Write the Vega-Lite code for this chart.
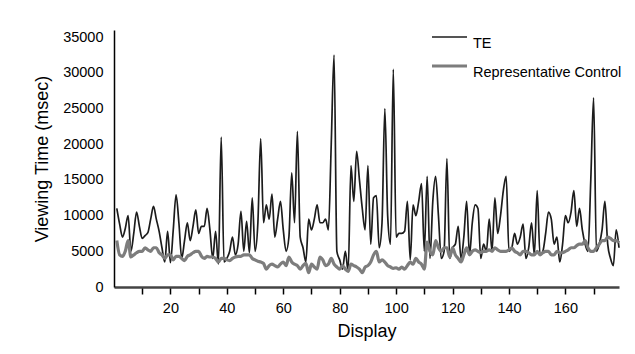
{
  "$schema": "https://vega.github.io/schema/vega-lite/v6.json",
  "autosize": {"type": "none"},
  "padding": {"left": 114, "top": 30, "right": 15, "bottom": 67},
  "width": 505,
  "height": 257,
  "background": "white",
  "config": {
    "font": "Liberation Sans",
    "view": {"stroke": null},
    "axis": {"grid": false, "labelColor": "#000", "titleColor": "#000", "labelFontSize": 14.5, "titleFontSize": 18, "titleFontWeight": "normal"},
    "legend": {"labelFont": "Liberation Sans"}
  },
  "data": {"values": [
    {"d":1,"TE":11000,"Representative Control":6500},
    {"d":2,"TE":8800,"Representative Control":4500},
    {"d":3,"TE":7000,"Representative Control":4300},
    {"d":4,"TE":8200,"Representative Control":5000},
    {"d":5,"TE":10000,"Representative Control":6500},
    {"d":6,"TE":5000,"Representative Control":4200},
    {"d":7,"TE":7500,"Representative Control":4500},
    {"d":8,"TE":10500,"Representative Control":4800},
    {"d":9,"TE":8500,"Representative Control":5000},
    {"d":10,"TE":6800,"Representative Control":5000},
    {"d":11,"TE":7200,"Representative Control":5500},
    {"d":12,"TE":7600,"Representative Control":5200},
    {"d":13,"TE":9500,"Representative Control":5000},
    {"d":14,"TE":11300,"Representative Control":5500},
    {"d":15,"TE":9500,"Representative Control":5500},
    {"d":16,"TE":7800,"Representative Control":4800},
    {"d":17,"TE":5500,"Representative Control":4500},
    {"d":18,"TE":3500,"Representative Control":4000},
    {"d":19,"TE":7800,"Representative Control":4500},
    {"d":20,"TE":3400,"Representative Control":4500},
    {"d":21,"TE":8000,"Representative Control":3800},
    {"d":22,"TE":12900,"Representative Control":4300},
    {"d":23,"TE":9000,"Representative Control":4300},
    {"d":24,"TE":4000,"Representative Control":4000},
    {"d":25,"TE":6500,"Representative Control":3700},
    {"d":26,"TE":9000,"Representative Control":4300},
    {"d":27,"TE":6500,"Representative Control":4500},
    {"d":28,"TE":8500,"Representative Control":4800},
    {"d":29,"TE":10800,"Representative Control":5000},
    {"d":30,"TE":7500,"Representative Control":5000},
    {"d":31,"TE":8500,"Representative Control":4300},
    {"d":32,"TE":8500,"Representative Control":4000},
    {"d":33,"TE":11000,"Representative Control":4300},
    {"d":34,"TE":8000,"Representative Control":4200},
    {"d":35,"TE":4000,"Representative Control":4200},
    {"d":36,"TE":7800,"Representative Control":4000},
    {"d":37,"TE":3200,"Representative Control":3500},
    {"d":38,"TE":21000,"Representative Control":4000},
    {"d":39,"TE":3500,"Representative Control":4000},
    {"d":40,"TE":4000,"Representative Control":3800},
    {"d":41,"TE":5000,"Representative Control":3700},
    {"d":42,"TE":7000,"Representative Control":4000},
    {"d":43,"TE":4500,"Representative Control":4200},
    {"d":44,"TE":6000,"Representative Control":4300},
    {"d":45,"TE":10600,"Representative Control":4300},
    {"d":46,"TE":5000,"Representative Control":4500},
    {"d":47,"TE":9200,"Representative Control":4500},
    {"d":48,"TE":4800,"Representative Control":4500},
    {"d":49,"TE":12500,"Representative Control":4000},
    {"d":50,"TE":5000,"Representative Control":3800},
    {"d":51,"TE":9000,"Representative Control":3600},
    {"d":52,"TE":20800,"Representative Control":3500},
    {"d":53,"TE":9000,"Representative Control":3300},
    {"d":54,"TE":11500,"Representative Control":2500},
    {"d":55,"TE":9500,"Representative Control":3000},
    {"d":56,"TE":13000,"Representative Control":3200},
    {"d":57,"TE":7000,"Representative Control":3000},
    {"d":58,"TE":9500,"Representative Control":2800},
    {"d":59,"TE":12000,"Representative Control":3200},
    {"d":60,"TE":8000,"Representative Control":3500},
    {"d":61,"TE":5000,"Representative Control":3000},
    {"d":62,"TE":7000,"Representative Control":4200},
    {"d":63,"TE":16000,"Representative Control":3500},
    {"d":64,"TE":9000,"Representative Control":3200},
    {"d":65,"TE":21800,"Representative Control":3000},
    {"d":66,"TE":7000,"Representative Control":2500},
    {"d":67,"TE":5500,"Representative Control":3000},
    {"d":68,"TE":3500,"Representative Control":3300},
    {"d":69,"TE":9500,"Representative Control":2000},
    {"d":70,"TE":8000,"Representative Control":3200},
    {"d":71,"TE":9500,"Representative Control":2800},
    {"d":72,"TE":11500,"Representative Control":2500},
    {"d":73,"TE":9000,"Representative Control":4200},
    {"d":74,"TE":9000,"Representative Control":3800},
    {"d":75,"TE":9500,"Representative Control":3000},
    {"d":76,"TE":8000,"Representative Control":3200},
    {"d":77,"TE":20000,"Representative Control":4000},
    {"d":78,"TE":32500,"Representative Control":3200},
    {"d":79,"TE":5000,"Representative Control":2800},
    {"d":80,"TE":3800,"Representative Control":2500},
    {"d":81,"TE":2500,"Representative Control":3000},
    {"d":82,"TE":5000,"Representative Control":2500},
    {"d":83,"TE":2200,"Representative Control":2200},
    {"d":84,"TE":17000,"Representative Control":3200},
    {"d":85,"TE":12000,"Representative Control":3000},
    {"d":86,"TE":19000,"Representative Control":2800},
    {"d":87,"TE":15000,"Representative Control":2500},
    {"d":88,"TE":11000,"Representative Control":2000},
    {"d":89,"TE":8000,"Representative Control":2800},
    {"d":90,"TE":17000,"Representative Control":3000},
    {"d":91,"TE":6000,"Representative Control":3500},
    {"d":92,"TE":12500,"Representative Control":4500},
    {"d":93,"TE":12800,"Representative Control":5000},
    {"d":94,"TE":5500,"Representative Control":3500},
    {"d":95,"TE":9000,"Representative Control":3800},
    {"d":96,"TE":25000,"Representative Control":3500},
    {"d":97,"TE":10000,"Representative Control":3000},
    {"d":98,"TE":6000,"Representative Control":2800},
    {"d":99,"TE":30500,"Representative Control":2600},
    {"d":100,"TE":7000,"Representative Control":2700},
    {"d":101,"TE":7500,"Representative Control":2500},
    {"d":102,"TE":7500,"Representative Control":2800},
    {"d":103,"TE":7800,"Representative Control":2500},
    {"d":104,"TE":12000,"Representative Control":3000},
    {"d":105,"TE":3800,"Representative Control":3500},
    {"d":106,"TE":11500,"Representative Control":3200},
    {"d":107,"TE":10000,"Representative Control":4000},
    {"d":108,"TE":12000,"Representative Control":3500},
    {"d":109,"TE":14500,"Representative Control":3200},
    {"d":110,"TE":5000,"Representative Control":2500},
    {"d":111,"TE":15500,"Representative Control":6300},
    {"d":112,"TE":4000,"Representative Control":5000},
    {"d":113,"TE":12000,"Representative Control":4500},
    {"d":114,"TE":15500,"Representative Control":6500},
    {"d":115,"TE":10000,"Representative Control":5500},
    {"d":116,"TE":4000,"Representative Control":5000},
    {"d":117,"TE":5000,"Representative Control":5500},
    {"d":118,"TE":18000,"Representative Control":5500},
    {"d":119,"TE":4000,"Representative Control":4200},
    {"d":120,"TE":5500,"Representative Control":5500},
    {"d":121,"TE":6000,"Representative Control":4500},
    {"d":122,"TE":8500,"Representative Control":4000},
    {"d":123,"TE":4000,"Representative Control":3500},
    {"d":124,"TE":7000,"Representative Control":4500},
    {"d":125,"TE":12000,"Representative Control":5500},
    {"d":126,"TE":4500,"Representative Control":4500},
    {"d":127,"TE":9000,"Representative Control":5000},
    {"d":128,"TE":11500,"Representative Control":5200},
    {"d":129,"TE":11000,"Representative Control":5000},
    {"d":130,"TE":4000,"Representative Control":4800},
    {"d":131,"TE":6000,"Representative Control":5000},
    {"d":132,"TE":5000,"Representative Control":5000},
    {"d":133,"TE":9500,"Representative Control":5200},
    {"d":134,"TE":5000,"Representative Control":5000},
    {"d":135,"TE":12500,"Representative Control":5500},
    {"d":136,"TE":7500,"Representative Control":5200},
    {"d":137,"TE":10000,"Representative Control":5000},
    {"d":138,"TE":13500,"Representative Control":5000},
    {"d":139,"TE":15500,"Representative Control":5000},
    {"d":140,"TE":5000,"Representative Control":5200},
    {"d":141,"TE":5500,"Representative Control":5500},
    {"d":142,"TE":7500,"Representative Control":5000},
    {"d":143,"TE":6000,"Representative Control":4800},
    {"d":144,"TE":7000,"Representative Control":4500},
    {"d":145,"TE":8800,"Representative Control":5000},
    {"d":146,"TE":4000,"Representative Control":5000},
    {"d":147,"TE":5500,"Representative Control":4800},
    {"d":148,"TE":9000,"Representative Control":4500},
    {"d":149,"TE":4500,"Representative Control":4500},
    {"d":150,"TE":13500,"Representative Control":5000},
    {"d":151,"TE":4500,"Representative Control":4500},
    {"d":152,"TE":5000,"Representative Control":4800},
    {"d":153,"TE":7500,"Representative Control":5000},
    {"d":154,"TE":10500,"Representative Control":5000},
    {"d":155,"TE":9500,"Representative Control":4500},
    {"d":156,"TE":6000,"Representative Control":4500},
    {"d":157,"TE":7000,"Representative Control":5000},
    {"d":158,"TE":3500,"Representative Control":4800},
    {"d":159,"TE":6000,"Representative Control":4800},
    {"d":160,"TE":10000,"Representative Control":5000},
    {"d":161,"TE":9000,"Representative Control":5200},
    {"d":162,"TE":10500,"Representative Control":5500},
    {"d":163,"TE":13500,"Representative Control":5500},
    {"d":164,"TE":8500,"Representative Control":5800},
    {"d":165,"TE":11000,"Representative Control":6000},
    {"d":166,"TE":8000,"Representative Control":6000},
    {"d":167,"TE":6000,"Representative Control":6500},
    {"d":168,"TE":5000,"Representative Control":5500},
    {"d":169,"TE":15000,"Representative Control":5000},
    {"d":170,"TE":26500,"Representative Control":5000},
    {"d":171,"TE":5000,"Representative Control":5500},
    {"d":172,"TE":6000,"Representative Control":6000},
    {"d":173,"TE":8000,"Representative Control":6500},
    {"d":174,"TE":12000,"Representative Control":6500},
    {"d":175,"TE":6000,"Representative Control":7000},
    {"d":176,"TE":4000,"Representative Control":6800},
    {"d":177,"TE":3000,"Representative Control":6500},
    {"d":178,"TE":8000,"Representative Control":6500},
    {"d":179,"TE":5500,"Representative Control":6200}
  ]},
  "transform": [{"fold": ["TE", "Representative Control"], "as": ["series", "time"]}],
  "encoding": {
    "x": {"field": "d", "type": "quantitative", "title": "Display",
      "scale": {"domain": [0, 179], "nice": false, "zero": false},
      "axis": {"values": [10,20,30,40,50,60,70,80,90,100,110,120,130,140,150,160,170], "format": "d",
        "labelExpr": "datum.value % 20 == 0 ? datum.label : ''",
        "domainColor": "#444", "domainWidth": 2.5, "tickColor": "#000", "tickWidth": 1.5, "tickSize": 7,
        "labelPadding": 7, "titlePadding": 8, "labelFlush": false}},
    "y": {"field": "time", "type": "quantitative", "title": "Viewing Time (msec)",
      "scale": {"domain": [0, 36000], "nice": false},
      "axis": {"values": [0,5000,10000,15000,20000,25000,30000,35000], "format": "d", "ticks": false,
        "domainColor": "#000", "domainWidth": 1.5, "labelPadding": 11, "titlePadding": 11}},
    "color": {"field": "series", "type": "nominal",
      "scale": {"domain": ["TE", "Representative Control"], "range": ["#1c1c1c", "#7d7d7d"]},
      "legend": {"title": null, "orient": "none", "legendX": 316, "legendY": 0, "symbolType": "stroke", "symbolSize": 1225,
        "labelFontSize": 14.5, "labelColor": "#000", "labelOffset": 4, "clipHeight": 14, "rowPadding": 8, "padding": 0, "labelBaseline": "top"}},
    "strokeWidth": {"field": "series", "type": "nominal",
      "scale": {"domain": ["TE", "Representative Control"], "range": [1.7, 3.2]},
      "legend": null}
  },
  "layer": [
    {"transform": [{"filter": "datum.series == 'TE'"}], "mark": {"type": "line", "interpolate": "monotone"}},
    {"transform": [{"filter": "datum.series == 'Representative Control'"}], "mark": {"type": "line", "interpolate": "monotone"}}
  ]
}
